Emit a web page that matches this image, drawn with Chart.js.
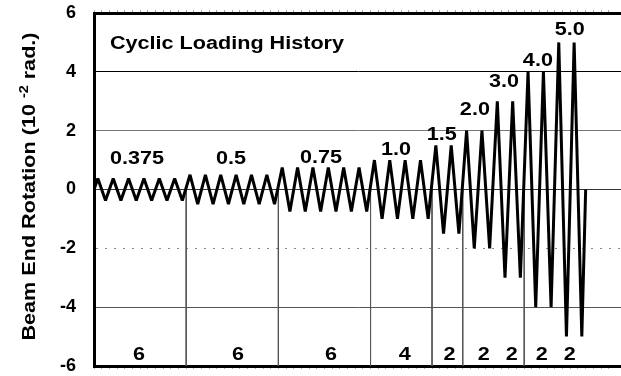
<!DOCTYPE html>
<html>
<head>
<meta charset="utf-8">
<title>Cyclic Loading History</title>
<script src="https://cdn.jsdelivr.net/npm/chart.js@4.4.1/dist/chart.umd.min.js"></script>
<style>
  html, body { margin: 0; padding: 0; background: #fff; }
  #wrap { width: 621px; height: 376px; position: relative; }
</style>
</head>
<body>
<div id="wrap"><canvas id="loadingChart"></canvas></div>
<script>
// loading protocol: drift amplitude of each step (10^-2 rad) and cycles run at that step
const amplitudes = [0.375, 0.5, 0.75, 1.0, 1.5, 2.0, 3.0, 4.0, 5.0];
const cyclesPerStep = [6, 6, 6, 4, 2, 2, 2, 2, 2];
const ampLabels = ['0.375', '0.5', '0.75', '1.0', '1.5', '2.0', '3.0', '4.0', '5.0'];
// cycle numbers where a step separator runs below the zero line
const separatorCycles = [6, 12, 18, 22, 24, 28];
const yTicks = [-6, -4, -2, 0, 2, 4, 6];

// label anchors in axis units (cycles, rotation)
const ampLabelX = [2.80, 8.91, 14.77, 19.65, 22.64, 24.79, 26.68, 28.89, 30.97];
const ampLabelY = [0.86, 0.86, 0.90, 1.17, 1.68, 2.53, 3.47, 4.19, 5.24];
const countLabelX = [2.93, 9.37, 15.42, 20.23, 23.14, 25.37, 27.19, 29.15, 30.97];
const countLabelY = -5.78;

// each cycle: up to +A, back through zero down to -A, back to zero
const history = [{ x: 0, y: 0 }];
let cyc = 0;
amplitudes.forEach((a, i) => {
  for (let k = 0; k < cyclesPerStep[i]; k++) {
    history.push({ x: cyc + 0.25, y: a }, { x: cyc + 0.75, y: -a });
    cyc++;
  }
});
history.push({ x: cyc, y: 0 });

const separators = [];
separatorCycles.forEach(c => {
  separators.push({ x: c, y: 0 }, { x: c, y: yTicks[0] }, { x: c, y: null });
});

const FONT = '"Liberation Sans", Arial, Helvetica, sans-serif';
const TEXT_STRETCH = 1.2;

function wideText(ctx, text, x, y, align) {
  ctx.save();
  ctx.translate(x, y);
  ctx.scale(TEXT_STRETCH, 1);
  ctx.textAlign = align || 'center';
  ctx.fillText(text, 0, 0);
  ctx.restore();
}

const labelsPlugin = {
  id: 'loadingLabels',
  afterDatasetsDraw(chart) {
    const { ctx, scales: { x, y } } = chart;
    ctx.save();
    ctx.fillStyle = '#000';
    ctx.textBaseline = 'alphabetic';
    ctx.font = 'bold 18px ' + FONT;
    wideText(ctx, 'Cyclic Loading History', x.getPixelForValue(1.04), y.getPixelForValue(4.76), 'left');
    ampLabels.forEach((t, i) => {
      wideText(ctx, t, x.getPixelForValue(ampLabelX[i]), y.getPixelForValue(ampLabelY[i]));
    });
    cyclesPerStep.forEach((n, i) => {
      wideText(ctx, String(n), x.getPixelForValue(countLabelX[i]), y.getPixelForValue(countLabelY));
    });
    ctx.restore();
  },
  afterDraw(chart) {
    // rotated y title with a raised exponent
    const { ctx, chartArea } = chart;
    const main1 = 'Beam End Rotation (10 ';
    const sup = '-2';
    const main2 = ' rad.)';
    ctx.save();
    ctx.fillStyle = '#000';
    ctx.textBaseline = 'alphabetic';
    ctx.textAlign = 'left';
    ctx.translate(35, (chartArea.top + chartArea.bottom) / 2 - 3);
    ctx.rotate(-Math.PI / 2);
    ctx.scale(TEXT_STRETCH, 1);
    ctx.font = 'bold 18px ' + FONT;
    const w1 = ctx.measureText(main1).width;
    const w3 = ctx.measureText(main2).width;
    ctx.font = 'bold 12px ' + FONT;
    const w2 = ctx.measureText(sup).width;
    let px = -(w1 + w2 + w3) / 2;
    ctx.font = 'bold 18px ' + FONT;
    ctx.fillText(main1, px, 0);
    px += w1;
    ctx.font = 'bold 12px ' + FONT;
    ctx.fillText(sup, px, -7);
    px += w2;
    ctx.font = 'bold 18px ' + FONT;
    ctx.fillText(main2, px, 0);
    ctx.restore();
  }
};

const yGridColor = { '4': '#000', '2': '#777', '0': '#333', '-2': '#888', '-4': '#555' };

// half-cycle tick marks along the top and bottom frame
const tickAxis = (pos, h) => ({
  type: 'linear',
  display: true,
  position: pos,
  min: 0,
  max: 34.3,
  ticks: { display: false, stepSize: 0.5 },
  grid: { drawOnChartArea: false, drawTicks: true, tickLength: 3, tickColor: '#aaa', tickWidth: 1 },
  border: { display: true, color: '#000', width: 3 },
  afterFit(scale) { scale.height = h; }
});

new Chart(document.getElementById('loadingChart'), {
  type: 'line',
  data: {
    datasets: [
      {
        data: separators,
        borderColor: '#555',
        borderWidth: 1,
        pointRadius: 0,
        spanGaps: false,
        order: 2
      },
      {
        data: history,
        borderColor: '#000',
        borderWidth: 3,
        borderJoinStyle: 'bevel',
        pointRadius: 0,
        tension: 0,
        order: 1
      }
    ]
  },
  options: {
    responsive: true,
    maintainAspectRatio: false,
    animation: false,
    layout: { padding: 0 },
    plugins: { legend: { display: false }, tooltip: { enabled: false } },
    scales: {
      x: tickAxis('bottom', 10),
      x2: tickAxis('top', 13),
      y: {
        min: yTicks[0],
        max: yTicks[yTicks.length - 1],
        afterBuildTicks(scale) { scale.ticks = yTicks.map(v => ({ value: v })); },
        afterFit(scale) { scale.width = 94; },
        ticks: {
          color: '#000',
          padding: 0,
          font: { family: FONT, size: 18, weight: 'bold', lineHeight: 1 }
        },
        grid: {
          drawTicks: true,
          tickLength: 18,
          tickColor: 'rgba(0,0,0,0)',
          lineWidth: 1,
          color: c => (c.tick && yGridColor[String(c.tick.value)]) || 'rgba(0,0,0,0)'
        },
        border: {
          color: '#000',
          width: 3,
          dash: c => (c.tick && c.tick.value === -2) ? [2, 7] : []
        }
      }
    }
  },
  plugins: [labelsPlugin]
});
</script>
</body>
</html>
